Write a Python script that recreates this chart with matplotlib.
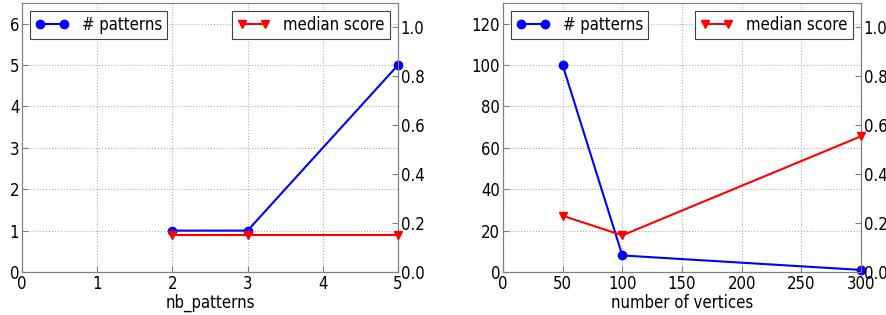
import matplotlib
matplotlib.use("Agg")
import matplotlib.pyplot as plt

# Left panel data
nb_patterns = [2, 3, 5]
left_counts = [1, 1, 5]
left_scores = [0.15, 0.15, 0.15]

# Right panel data
n_vertices = [50, 100, 300]
right_counts = [100, 8, 1]
right_scores = [0.23, 0.15, 0.555]

plt.rcParams['font.family'] = ['DejaVu Sans']
plt.rcParams['font.stretch'] = 'condensed'
plt.rcParams['font.size'] = 12

fig = plt.figure(figsize=(8.86, 3.15), dpi=100)
W, H = 886.0, 315.0

def style(ax):
    for s in ax.spines.values():
        s.set_edgecolor('#808080')
    ax.tick_params(direction='in', length=4, colors='black', labelsize=12)
    ax.tick_params(axis='both', which='both', color='#808080')

def panel(rect, x, counts, scores, xlim, ylim, yticks, xlabel):
    ax = fig.add_axes(rect)
    ax.plot(x, counts, '-o', color='blue', lw=1.5, ms=6, mec='blue', label='# patterns', clip_on=False, zorder=3)
    ax.set_xlim(*xlim)
    ax.set_ylim(*ylim)
    ax.set_yticks(yticks)
    ax.grid(True, linestyle=':', color='#b0b0b0', lw=0.8)
    ax.set_xlabel(xlabel, fontsize=12, labelpad=1)
    style(ax)
    ax.tick_params(axis='x', pad=2)
    ax.tick_params(axis='y', pad=2)
    ax2 = ax.twinx()
    ax2.plot(x, scores, '-v', color='red', lw=1.5, ms=6, mec='red', label='median score', clip_on=False, zorder=3)
    ax2.set_ylim(0, 1.1)
    ax2.set_yticks([0.0, 0.2, 0.4, 0.6, 0.8, 1.0])
    style(ax2)
    ax2.tick_params(axis='y', pad=2)
    l1 = ax.legend(loc='upper left', numpoints=2, fancybox=False, framealpha=1,
                   edgecolor='#404040', fontsize=12, handlelength=2, borderpad=0.3,
                   borderaxespad=0.5)
    l1.get_frame().set_linewidth(0.8)
    l2 = ax2.legend(loc='upper right', numpoints=2, fancybox=False, framealpha=1,
                    edgecolor='#404040', fontsize=12, handlelength=2, borderpad=0.3,
                    borderaxespad=0.5)
    l2.get_frame().set_linewidth(0.8)
    return ax, ax2

panel([22/W, 43/H, 376/W, 269/H], nb_patterns, left_counts, left_scores,
      (0, 5), (0, 6.5), [0, 1, 2, 3, 4, 5, 6], 'nb_patterns')
panel([503/W, 43/H, 358/W, 269/H], n_vertices, right_counts, right_scores,
      (0, 300), (0, 130), [0, 20, 40, 60, 80, 100, 120], 'number of vertices')

fig.savefig('out.png', dpi=100)
